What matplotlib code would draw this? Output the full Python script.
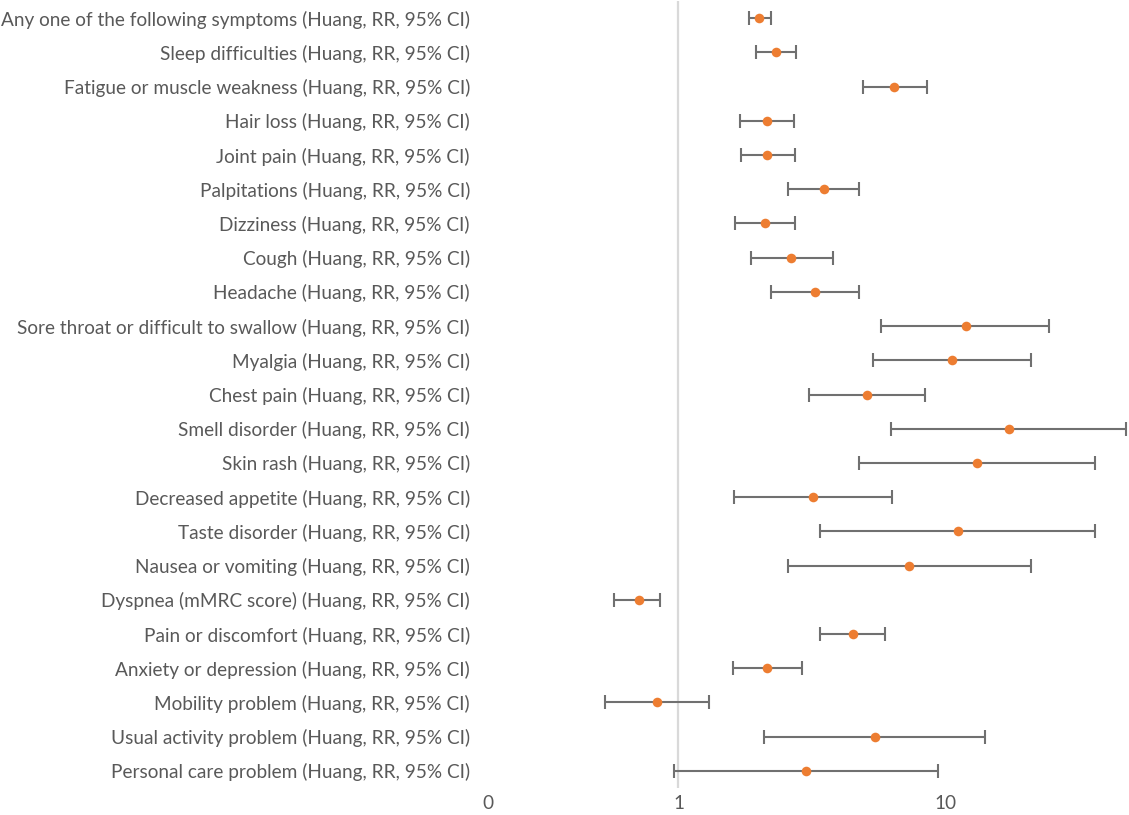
import matplotlib
matplotlib.use("Agg")
import matplotlib.pyplot as plt
import numpy as np

labels = [
    "Any one of the following symptoms (Huang, RR, 95% CI)",
    "Sleep difficulties (Huang, RR, 95% CI)",
    "Fatigue or muscle weakness (Huang, RR, 95% CI)",
    "Hair loss (Huang, RR, 95% CI)",
    "Joint pain (Huang, RR, 95% CI)",
    "Palpitations (Huang, RR, 95% CI)",
    "Dizziness (Huang, RR, 95% CI)",
    "Cough (Huang, RR, 95% CI)",
    "Headache (Huang, RR, 95% CI)",
    "Sore throat or difficult to swallow (Huang, RR, 95% CI)",
    "Myalgia (Huang, RR, 95% CI)",
    "Chest pain (Huang, RR, 95% CI)",
    "Smell disorder (Huang, RR, 95% CI)",
    "Skin rash (Huang, RR, 95% CI)",
    "Decreased appetite (Huang, RR, 95% CI)",
    "Taste disorder (Huang, RR, 95% CI)",
    "Nausea or vomiting (Huang, RR, 95% CI)",
    "Dyspnea (mMRC score) (Huang, RR, 95% CI)",
    "Pain or discomfort (Huang, RR, 95% CI)",
    "Anxiety or depression (Huang, RR, 95% CI)",
    "Mobility problem (Huang, RR, 95% CI)",
    "Usual activity problem (Huang, RR, 95% CI)",
    "Personal care problem (Huang, RR, 95% CI)",
]
rr = [2.00, 2.32, 6.40, 2.14, 2.15, 3.50, 2.10, 2.63, 3.24, 11.85, 10.50, 5.07,
      17.2, 13.05, 3.18, 11.06, 7.26, 0.71, 4.49, 2.15, 0.83, 5.42, 3.00]
ci_low = [1.83, 1.95, 4.90, 1.70, 1.71, 2.57, 1.63, 1.86, 2.22, 5.71, 5.34, 3.08,
          6.24, 4.73, 1.62, 3.38, 2.56, 0.575, 3.38, 1.60, 0.53, 2.09, 0.965]
ci_high = [2.22, 2.75, 8.50, 2.70, 2.72, 4.73, 2.73, 3.77, 4.73, 24.3, 20.8, 8.39,
           47.3, 36.2, 6.27, 36.2, 20.8, 0.856, 5.90, 2.89, 1.30, 14.06, 9.37]

x_min, x_max = 0.194, 48.0

plt.rcParams["font.family"] = ["Lato", "DejaVu Sans"]

fig = plt.figure(figsize=(11.29, 8.15), dpi=100)
ax = fig.add_axes([488 / 1129, 27 / 815, 640 / 1129, 787 / 815])

y = np.arange(len(labels))
rr_arr = np.array(rr)
err = [rr_arr - np.array(ci_low), np.array(ci_high) - rr_arr]

ax.axvline(1, color="#d9d9d9", linewidth=1.6, zorder=0)
ax.errorbar(rr_arr, y, xerr=err, fmt="none", ecolor="#707070", elinewidth=1.5,
            capsize=5, capthick=1.5, zorder=2)
ax.scatter(rr_arr, y, s=48, color="#ED7D31", zorder=3, linewidths=0)

ax.set_xscale("log")
ax.set_xlim(x_min, x_max)
ax.set_ylim(len(labels) - 0.5, -0.5)
ax.set_xticks([x_min, 1, 10])
ax.set_xticklabels(["0", "1", "10"])
ax.xaxis.set_minor_locator(matplotlib.ticker.NullLocator())
ax.set_yticks(y)
ax.set_yticklabels(labels)
ax.tick_params(axis="both", length=0, labelsize=13.7, labelcolor="#595959")
ax.tick_params(axis="y", pad=13)
ax.tick_params(axis="x", pad=5)
for spine in ax.spines.values():
    spine.set_visible(False)

fig.savefig("out.png", dpi=100)
